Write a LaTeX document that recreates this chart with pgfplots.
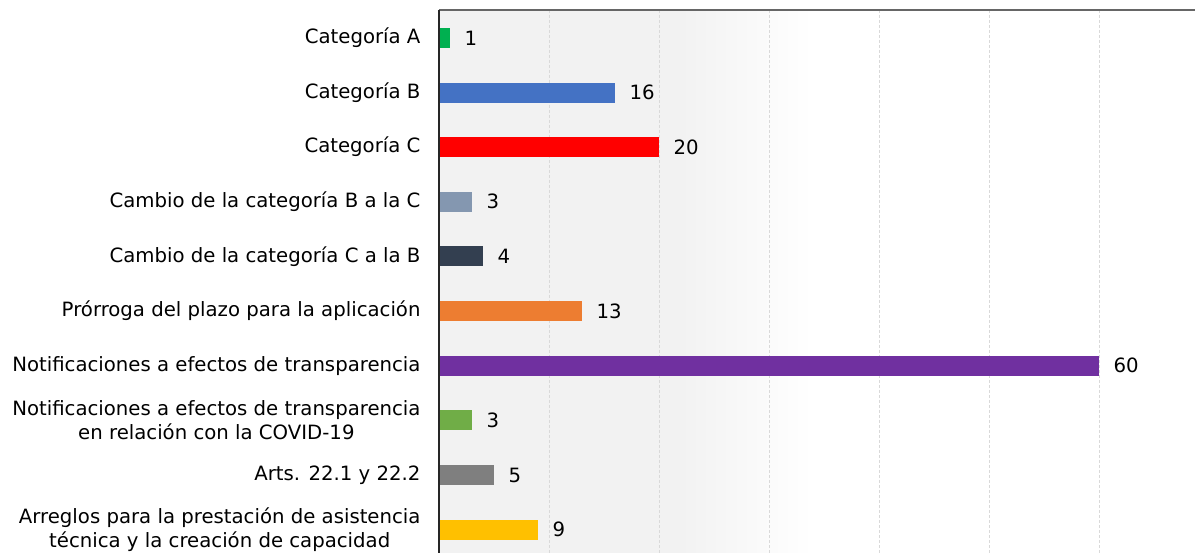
\documentclass[border=0pt]{standalone}
\usepackage{pgfplots}
\pgfplotsset{compat=1.18}
\usepackage{fontspec}
\setmainfont{DejaVu Sans}
\definecolor{cA}{HTML}{00B050}
\definecolor{cB}{HTML}{4472C4}
\definecolor{cC}{HTML}{FF0000}
\definecolor{cBC}{HTML}{8497B0}
\definecolor{cCB}{HTML}{333F50}
\definecolor{cPr}{HTML}{ED7D31}
\definecolor{cNo}{HTML}{7030A0}
\definecolor{cCo}{HTML}{70AD47}
\definecolor{cAr}{HTML}{7F7F7F}
\definecolor{cAs}{HTML}{FFC000}
\definecolor{bg}{HTML}{F2F2F2}
\begin{document}
\begin{tikzpicture}
\begin{axis}[
  name=ax,
  set layers,
  scale only axis,
  width=756pt, height=547pt,
  xmin=0, xmax=68.73,
  ymin=0.49, ymax=10.5,
  y dir=reverse,
  xbar, bar width=20pt,
  axis line style={draw=none},
  xtick={10,20,30,40,50,60},
  xticklabels={},
  major tick length=0pt,
  xmajorgrids,
  grid style={densely dashed, color=black!15, line width=0.8pt},
  ytick={1,2,3,4,5,6,7,8,9,10},
  yticklabels={Categoría A, Categoría B, Categoría C, Cambio de la categoría B a la C, Cambio de la categoría C a la B, Prórroga del plazo para la aplicación, Notificaciones a efectos de transparencia, {Notificaciones a efectos de transparencia\\en relación con la COVID-19}, {Arts. 22.1 y 22.2}, {Arreglos para la prestación de asistencia\\técnica y la creación de capacidad}},
  yticklabel style={font=\fontsize{19.7}{23.5}\selectfont, align=center, xshift=-15pt},
  /pgf/number format/assume math mode=true,
  nodes near coords,
  nodes near coords style={font=\fontsize{19.7}{23.5}\selectfont, anchor=west, xshift=11pt, color=black},
  clip=false,
]
\begin{pgfonlayer}{axis background}
\fill[bg] (axis cs:0,0.49) rectangle (axis cs:22,10.5);
\shade[left color=bg, right color=white] (axis cs:21.9,0.49) rectangle (axis cs:34,10.5);
\end{pgfonlayer}
\addplot[fill=cA, draw=none, bar shift=0pt] coordinates {(1,1)};
\addplot[fill=cB, draw=none, bar shift=0pt] coordinates {(16,2)};
\addplot[fill=cC, draw=none, bar shift=0pt] coordinates {(20,3)};
\addplot[fill=cBC, draw=none, bar shift=0pt] coordinates {(3,4)};
\addplot[fill=cCB, draw=none, bar shift=0pt] coordinates {(4,5)};
\addplot[fill=cPr, draw=none, bar shift=0pt] coordinates {(13,6)};
\addplot[fill=cNo, draw=none, bar shift=0pt] coordinates {(60,7)};
\addplot[fill=cCo, draw=none, bar shift=0pt] coordinates {(3,8)};
\addplot[fill=cAr, draw=none, bar shift=0pt] coordinates {(5,9)};
\addplot[fill=cAs, draw=none, bar shift=0pt] coordinates {(9,10)};
\draw[black!60, line width=1.5pt] (axis cs:0,0.49) -- (axis cs:68.73,0.49);
\draw[black!85, line width=1.5pt] (axis cs:0,0.49) -- (axis cs:0,10.5);
\end{axis}
\pgfresetboundingbox
\path[use as bounding box] ([xshift=-439pt,yshift=10pt]ax.north west) rectangle ([yshift=5pt]ax.south east);
\end{tikzpicture}
\end{document}
